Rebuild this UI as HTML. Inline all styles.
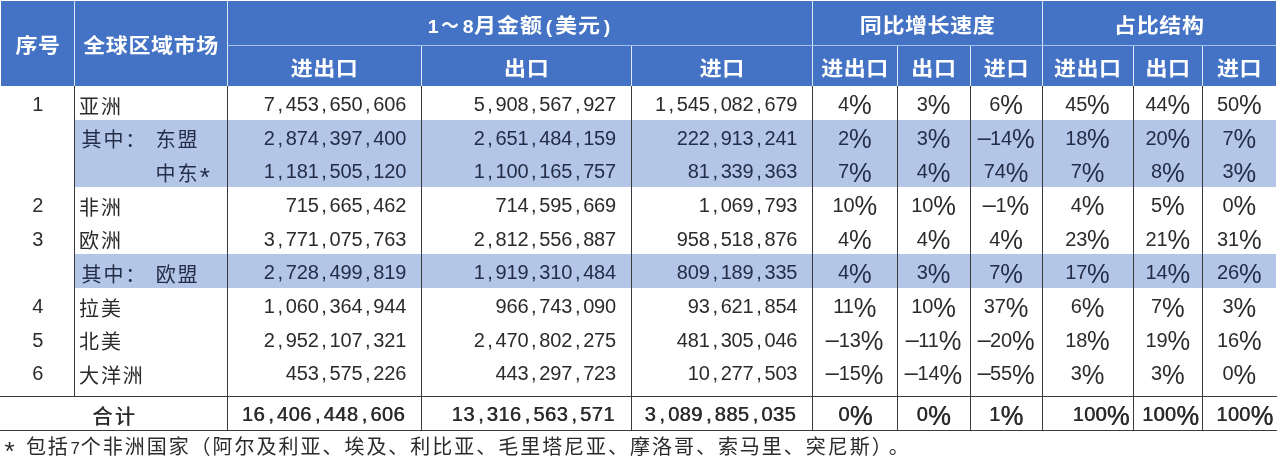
<!DOCTYPE html><html lang="zh-CN"><head><meta charset="utf-8"><title>全球区域市场</title><style>
*{margin:0;padding:0;box-sizing:border-box}
html,body{width:1280px;height:467px;overflow:hidden;background:#fff}
body{position:relative;font-family:"Liberation Sans","Noto Sans CJK SC",sans-serif;color:#2b2b2b}
div{position:absolute;white-space:pre}
.hb{background:#4472c4}
.lb{background:#b4c6e7}
.vl{width:1px;background:#3a3a3a}
.hl{height:1px;background:#3a3a3a}
.wl{background:#dfe8f7}
.wh{background:#a9c0ea}
.h{color:#fff;font-weight:700;font-size:22px;letter-spacing:0.6px;line-height:30px;height:30px;text-align:center;text-indent:0.6px;transform:scaleY(.93)}
.h s{text-decoration:none;letter-spacing:0;display:inline-block;width:12px;font-size:19.5px;text-align:center;text-indent:0}
.h em{font-style:normal;display:inline-block;transform:scaleX(.8);text-indent:0}
.h.tt{letter-spacing:1px}
.r{height:34px;line-height:34px;font-size:20px}
.c{letter-spacing:1.9px;margin-top:2.8px}
.c q{quotes:none;margin-left:2.5px}
.c s.w{width:8.45px}
.c s.a{font-size:26px;line-height:0;position:relative;top:5px}
.c s{text-decoration:none;display:inline-block;width:10.95px;letter-spacing:0;text-align:center}
.n{text-align:right;letter-spacing:-0.17px}
.n i{font-style:normal;display:inline-block;width:10.95px;text-align:center;letter-spacing:0}
.p{text-align:center;letter-spacing:-0.17px}
.p b{font-weight:400;font-size:25.5px;line-height:0;letter-spacing:0;position:relative;top:2.6px;margin-left:0;display:inline-block;transform:scaleY(1.07)}
.p u{text-decoration:none;display:inline-block;width:12.5px;text-align:center;transform:scaleX(2.7);letter-spacing:0}
.i{text-align:center}
.k{color:#232d47}
.t{font-weight:400;text-shadow:0.55px 0 0 #2b2b2b}
.t.n{letter-spacing:0.5px}
.t.n i{width:11.8px}
.t.p{letter-spacing:0.3px}
.t.c{letter-spacing:2.6px}
.f{font-size:20px;letter-spacing:1.97px;line-height:30px;height:30px}
.f s.d{font-size:17px}
.f s.a{font-size:26px;line-height:0;position:relative;top:6px}
.f em{font-style:normal;margin-left:5px}
.f s{text-decoration:none;display:inline-block;width:10.95px;letter-spacing:0;text-align:center}
</style></head><body>
<div class="hb" style="left:1px;top:1px;width:1275px;height:84.5px"></div>
<div class="lb" style="left:75px;top:119.6px;width:1201px;height:67.6px"></div>
<div class="lb" style="left:75px;top:254.2px;width:1201px;height:33.9px"></div>
<div class="wl" style="left:74.0px;top:1px;width:1px;height:84.5px"></div>
<div class="wl" style="left:226.5px;top:1px;width:1px;height:84.5px"></div>
<div class="wl" style="left:812.1px;top:1px;width:1px;height:84.5px"></div>
<div class="wl" style="left:1041.5px;top:1px;width:1px;height:84.5px"></div>
<div class="wl" style="left:421.0px;top:45px;width:1px;height:40.5px"></div>
<div class="wl" style="left:630.8px;top:45px;width:1px;height:40.5px"></div>
<div class="wl" style="left:896.5px;top:45px;width:1px;height:40.5px"></div>
<div class="wl" style="left:969.7px;top:45px;width:1px;height:40.5px"></div>
<div class="wl" style="left:1132.5px;top:45px;width:1px;height:40.5px"></div>
<div class="wl" style="left:1202.1px;top:45px;width:1px;height:40.5px"></div>
<div class="wh" style="left:227.0px;top:45px;width:1049.0px;height:1px"></div>
<div class="vl" style="left:74.0px;top:85.5px;height:311px"></div>
<div class="vl" style="left:226.5px;top:85.5px;height:345px"></div>
<div class="vl" style="left:421.0px;top:85.5px;height:345px"></div>
<div class="vl" style="left:630.8px;top:85.5px;height:345px"></div>
<div class="vl" style="left:812.1px;top:85.5px;height:345px"></div>
<div class="vl" style="left:896.5px;top:85.5px;height:345px"></div>
<div class="vl" style="left:969.7px;top:85.5px;height:345px"></div>
<div class="vl" style="left:1041.5px;top:85.5px;height:345px"></div>
<div class="vl" style="left:1132.5px;top:85.5px;height:345px"></div>
<div class="vl" style="left:1202.1px;top:85.5px;height:345px"></div>
<div class="hl" style="left:0;top:396px;width:1277px"></div>
<div class="hl" style="left:0;top:429.7px;width:1277px"></div>
<div class="h" style="left:1.0px;width:73.5px;top:31.3px">序号</div>
<div class="h" style="left:74.5px;width:152.5px;top:31.3px">全球区域市场</div>
<div class="h tt" style="left:227.0px;width:585.6px;top:11.4px"><s>1</s><em>～</em><s>8</s>月金额<s>(</s>美元<s>)</s></div>
<div class="h" style="left:812.6px;width:229.4px;top:11.4px">同比增长速度</div>
<div class="h" style="left:1042.0px;width:234.0px;top:11.4px">占比结构</div>
<div class="h" style="left:227.0px;width:194.5px;top:54.4px">进出口</div>
<div class="h" style="left:421.5px;width:209.8px;top:54.4px">出口</div>
<div class="h" style="left:631.3px;width:181.3px;top:54.4px">进口</div>
<div class="h" style="left:812.6px;width:84.4px;top:54.4px">进出口</div>
<div class="h" style="left:897.0px;width:73.2px;top:54.4px">出口</div>
<div class="h" style="left:970.2px;width:71.8px;top:54.4px">进口</div>
<div class="h" style="left:1042.0px;width:91.0px;top:54.4px">进出口</div>
<div class="h" style="left:1133.0px;width:69.6px;top:54.4px">出口</div>
<div class="h" style="left:1202.6px;width:73.4px;top:54.4px">进口</div>
<div class="r i" style="left:1.0px;width:73.5px;top:86.8px">1</div>
<div class="r c" style="left:79.0px;top:86.8px">亚洲</div>
<div class="r n" style="left:227.0px;width:179.2px;top:86.8px">7<i>,</i>453<i>,</i>650<i>,</i>606</div>
<div class="r n" style="left:421.5px;width:194.5px;top:86.8px">5<i>,</i>908<i>,</i>567<i>,</i>927</div>
<div class="r n" style="left:631.3px;width:166.0px;top:86.8px">1<i>,</i>545<i>,</i>082<i>,</i>679</div>
<div class="r p" style="left:812.6px;width:84.4px;top:86.8px">4<b>%</b></div>
<div class="r p" style="left:897.0px;width:73.2px;top:86.8px">3<b>%</b></div>
<div class="r p" style="left:970.2px;width:71.8px;top:86.8px">6<b>%</b></div>
<div class="r p" style="left:1042.0px;width:91.0px;top:86.8px">45<b>%</b></div>
<div class="r p" style="left:1133.0px;width:69.6px;top:86.8px">44<b>%</b></div>
<div class="r p" style="left:1202.6px;width:73.4px;top:86.8px">50<b>%</b></div>
<div class="r c k" style="left:79.0px;top:120.5px"><q>其中：</q><s class="w"> </s>东盟</div>
<div class="r n k" style="left:227.0px;width:179.2px;top:120.5px">2<i>,</i>874<i>,</i>397<i>,</i>400</div>
<div class="r n k" style="left:421.5px;width:194.5px;top:120.5px">2<i>,</i>651<i>,</i>484<i>,</i>159</div>
<div class="r n k" style="left:631.3px;width:166.0px;top:120.5px">222<i>,</i>913<i>,</i>241</div>
<div class="r p k" style="left:812.6px;width:84.4px;top:120.5px">2<b>%</b></div>
<div class="r p k" style="left:897.0px;width:73.2px;top:120.5px">3<b>%</b></div>
<div class="r p k" style="left:970.2px;width:71.8px;top:120.5px"><u>-</u>14<b>%</b></div>
<div class="r p k" style="left:1042.0px;width:91.0px;top:120.5px">18<b>%</b></div>
<div class="r p k" style="left:1133.0px;width:69.6px;top:120.5px">20<b>%</b></div>
<div class="r p k" style="left:1202.6px;width:73.4px;top:120.5px">7<b>%</b></div>
<div class="r c k" style="left:79.0px;top:154.2px"><s> </s><s> </s><s> </s><s> </s><s> </s><s> </s><s> </s>中东<s class="a">*</s></div>
<div class="r n k" style="left:227.0px;width:179.2px;top:154.2px">1<i>,</i>181<i>,</i>505<i>,</i>120</div>
<div class="r n k" style="left:421.5px;width:194.5px;top:154.2px">1<i>,</i>100<i>,</i>165<i>,</i>757</div>
<div class="r n k" style="left:631.3px;width:166.0px;top:154.2px">81<i>,</i>339<i>,</i>363</div>
<div class="r p k" style="left:812.6px;width:84.4px;top:154.2px">7<b>%</b></div>
<div class="r p k" style="left:897.0px;width:73.2px;top:154.2px">4<b>%</b></div>
<div class="r p k" style="left:970.2px;width:71.8px;top:154.2px">74<b>%</b></div>
<div class="r p k" style="left:1042.0px;width:91.0px;top:154.2px">7<b>%</b></div>
<div class="r p k" style="left:1133.0px;width:69.6px;top:154.2px">8<b>%</b></div>
<div class="r p k" style="left:1202.6px;width:73.4px;top:154.2px">3<b>%</b></div>
<div class="r i" style="left:1.0px;width:73.5px;top:187.9px">2</div>
<div class="r c" style="left:79.0px;top:187.9px">非洲</div>
<div class="r n" style="left:227.0px;width:179.2px;top:187.9px">715<i>,</i>665<i>,</i>462</div>
<div class="r n" style="left:421.5px;width:194.5px;top:187.9px">714<i>,</i>595<i>,</i>669</div>
<div class="r n" style="left:631.3px;width:166.0px;top:187.9px">1<i>,</i>069<i>,</i>793</div>
<div class="r p" style="left:812.6px;width:84.4px;top:187.9px">10<b>%</b></div>
<div class="r p" style="left:897.0px;width:73.2px;top:187.9px">10<b>%</b></div>
<div class="r p" style="left:970.2px;width:71.8px;top:187.9px"><u>-</u>1<b>%</b></div>
<div class="r p" style="left:1042.0px;width:91.0px;top:187.9px">4<b>%</b></div>
<div class="r p" style="left:1133.0px;width:69.6px;top:187.9px">5<b>%</b></div>
<div class="r p" style="left:1202.6px;width:73.4px;top:187.9px">0<b>%</b></div>
<div class="r i" style="left:1.0px;width:73.5px;top:221.6px">3</div>
<div class="r c" style="left:79.0px;top:221.6px">欧洲</div>
<div class="r n" style="left:227.0px;width:179.2px;top:221.6px">3<i>,</i>771<i>,</i>075<i>,</i>763</div>
<div class="r n" style="left:421.5px;width:194.5px;top:221.6px">2<i>,</i>812<i>,</i>556<i>,</i>887</div>
<div class="r n" style="left:631.3px;width:166.0px;top:221.6px">958<i>,</i>518<i>,</i>876</div>
<div class="r p" style="left:812.6px;width:84.4px;top:221.6px">4<b>%</b></div>
<div class="r p" style="left:897.0px;width:73.2px;top:221.6px">4<b>%</b></div>
<div class="r p" style="left:970.2px;width:71.8px;top:221.6px">4<b>%</b></div>
<div class="r p" style="left:1042.0px;width:91.0px;top:221.6px">23<b>%</b></div>
<div class="r p" style="left:1133.0px;width:69.6px;top:221.6px">21<b>%</b></div>
<div class="r p" style="left:1202.6px;width:73.4px;top:221.6px">31<b>%</b></div>
<div class="r c k" style="left:79.0px;top:255.3px"><q>其中：</q><s class="w"> </s>欧盟</div>
<div class="r n k" style="left:227.0px;width:179.2px;top:255.3px">2<i>,</i>728<i>,</i>499<i>,</i>819</div>
<div class="r n k" style="left:421.5px;width:194.5px;top:255.3px">1<i>,</i>919<i>,</i>310<i>,</i>484</div>
<div class="r n k" style="left:631.3px;width:166.0px;top:255.3px">809<i>,</i>189<i>,</i>335</div>
<div class="r p k" style="left:812.6px;width:84.4px;top:255.3px">4<b>%</b></div>
<div class="r p k" style="left:897.0px;width:73.2px;top:255.3px">3<b>%</b></div>
<div class="r p k" style="left:970.2px;width:71.8px;top:255.3px">7<b>%</b></div>
<div class="r p k" style="left:1042.0px;width:91.0px;top:255.3px">17<b>%</b></div>
<div class="r p k" style="left:1133.0px;width:69.6px;top:255.3px">14<b>%</b></div>
<div class="r p k" style="left:1202.6px;width:73.4px;top:255.3px">26<b>%</b></div>
<div class="r i" style="left:1.0px;width:73.5px;top:289.0px">4</div>
<div class="r c" style="left:79.0px;top:289.0px">拉美</div>
<div class="r n" style="left:227.0px;width:179.2px;top:289.0px">1<i>,</i>060<i>,</i>364<i>,</i>944</div>
<div class="r n" style="left:421.5px;width:194.5px;top:289.0px">966<i>,</i>743<i>,</i>090</div>
<div class="r n" style="left:631.3px;width:166.0px;top:289.0px">93<i>,</i>621<i>,</i>854</div>
<div class="r p" style="left:812.6px;width:84.4px;top:289.0px">11<b>%</b></div>
<div class="r p" style="left:897.0px;width:73.2px;top:289.0px">10<b>%</b></div>
<div class="r p" style="left:970.2px;width:71.8px;top:289.0px">37<b>%</b></div>
<div class="r p" style="left:1042.0px;width:91.0px;top:289.0px">6<b>%</b></div>
<div class="r p" style="left:1133.0px;width:69.6px;top:289.0px">7<b>%</b></div>
<div class="r p" style="left:1202.6px;width:73.4px;top:289.0px">3<b>%</b></div>
<div class="r i" style="left:1.0px;width:73.5px;top:322.7px">5</div>
<div class="r c" style="left:79.0px;top:322.7px">北美</div>
<div class="r n" style="left:227.0px;width:179.2px;top:322.7px">2<i>,</i>952<i>,</i>107<i>,</i>321</div>
<div class="r n" style="left:421.5px;width:194.5px;top:322.7px">2<i>,</i>470<i>,</i>802<i>,</i>275</div>
<div class="r n" style="left:631.3px;width:166.0px;top:322.7px">481<i>,</i>305<i>,</i>046</div>
<div class="r p" style="left:812.6px;width:84.4px;top:322.7px"><u>-</u>13<b>%</b></div>
<div class="r p" style="left:897.0px;width:73.2px;top:322.7px"><u>-</u>11<b>%</b></div>
<div class="r p" style="left:970.2px;width:71.8px;top:322.7px"><u>-</u>20<b>%</b></div>
<div class="r p" style="left:1042.0px;width:91.0px;top:322.7px">18<b>%</b></div>
<div class="r p" style="left:1133.0px;width:69.6px;top:322.7px">19<b>%</b></div>
<div class="r p" style="left:1202.6px;width:73.4px;top:322.7px">16<b>%</b></div>
<div class="r i" style="left:1.0px;width:73.5px;top:356.4px">6</div>
<div class="r c" style="left:79.0px;top:356.4px">大洋洲</div>
<div class="r n" style="left:227.0px;width:179.2px;top:356.4px">453<i>,</i>575<i>,</i>226</div>
<div class="r n" style="left:421.5px;width:194.5px;top:356.4px">443<i>,</i>297<i>,</i>723</div>
<div class="r n" style="left:631.3px;width:166.0px;top:356.4px">10<i>,</i>277<i>,</i>503</div>
<div class="r p" style="left:812.6px;width:84.4px;top:356.4px"><u>-</u>15<b>%</b></div>
<div class="r p" style="left:897.0px;width:73.2px;top:356.4px"><u>-</u>14<b>%</b></div>
<div class="r p" style="left:970.2px;width:71.8px;top:356.4px"><u>-</u>55<b>%</b></div>
<div class="r p" style="left:1042.0px;width:91.0px;top:356.4px">3<b>%</b></div>
<div class="r p" style="left:1133.0px;width:69.6px;top:356.4px">3<b>%</b></div>
<div class="r p" style="left:1202.6px;width:73.4px;top:356.4px">0<b>%</b></div>
<div class="r c t" style="left:1.8px;width:226.0px;top:397.0px;text-align:center">合计</div>
<div class="r n t" style="left:227.0px;width:178.0px;top:397.0px">16<i>,</i>406<i>,</i>448<i>,</i>606</div>
<div class="r n t" style="left:421.5px;width:193.3px;top:397.0px">13<i>,</i>316<i>,</i>563<i>,</i>571</div>
<div class="r n t" style="left:631.3px;width:164.8px;top:397.0px">3<i>,</i>089<i>,</i>885<i>,</i>035</div>
<div class="r p t" style="left:813.1px;width:84.4px;top:397.0px">0<b>%</b></div>
<div class="r p t" style="left:897.0px;width:73.2px;top:397.0px">0<b>%</b></div>
<div class="r p t" style="left:970.2px;width:71.8px;top:397.0px">1<b>%</b></div>
<div class="r p t" style="left:1055.5px;width:91.0px;top:397.0px">100<b>%</b></div>
<div class="r p t" style="left:1135.6px;width:69.6px;top:397.0px">100<b>%</b></div>
<div class="r p t" style="left:1208.0px;width:73.4px;top:397.0px">100<b>%</b></div>
<div class="f" style="left:4px;top:432.2px"><s class="a">*</s><s> </s>包括<s class="d">7</s>个非洲国家（阿尔及利亚、埃及、利比亚、毛里塔尼亚、摩洛哥、索马里、突尼斯）<em>。</em></div>
</body></html>
